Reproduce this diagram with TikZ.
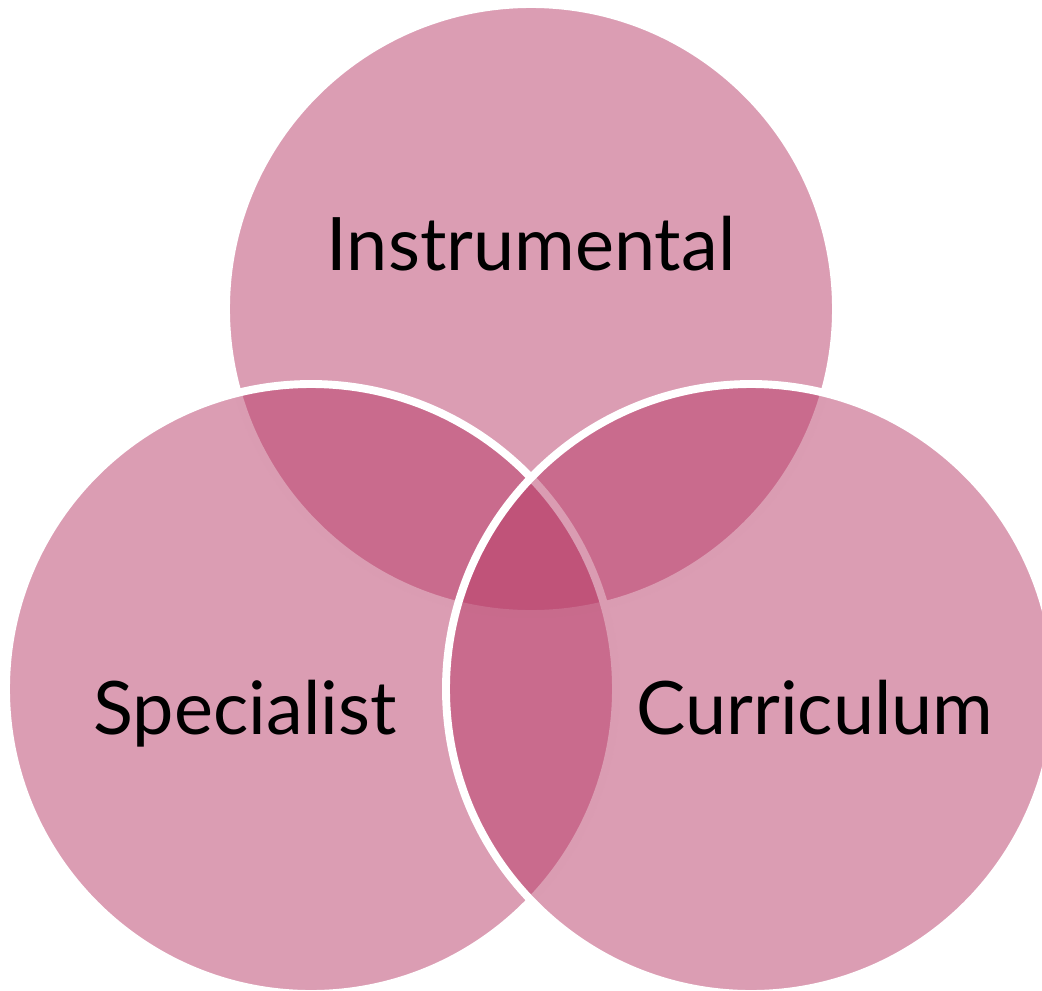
\documentclass[tikz,border=0pt]{standalone}
\usepackage{fontspec}
\setmainfont{Lato}
\usepackage{tikz}
\usetikzlibrary{positioning}

\definecolor{vennpink}{RGB}{183,59,103}

\begin{document}
\begin{tikzpicture}[
    x=0.02cm, y=-0.02cm,
    % styles
    venn/.style={
        fill=vennpink, fill opacity=0.5, draw=white, line width=4.5pt
    },
    venn_label/.style={
        anchor=base, text=black, inner sep=0pt, font=\fontsize{42}{50}\selectfont
    }
]
    \useasboundingbox (0,0) rectangle (1042,991);

    % --- circles (top, left, right) ---
    \draw[venn] (531,309) circle (305);
    \draw[venn] (311,689) circle (305);
    \draw[venn] (751,689) circle (305);

    % --- labels ---
    \node[venn_label] (instrumental) at (531,270) {Instrumental};
    \node[venn_label] (specialist) at (245,734) {Specialist};
    \node[venn_label] (curriculum) at (815,734) {Curriculum};

\end{tikzpicture}
\end{document}
